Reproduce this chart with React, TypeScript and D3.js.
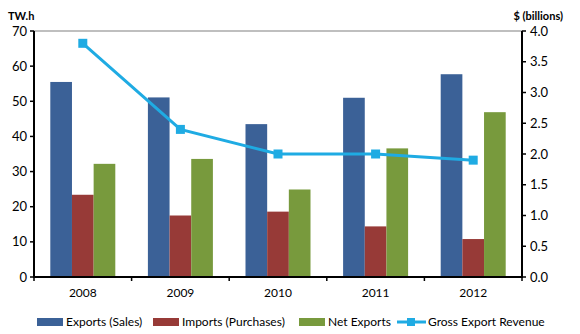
import React from "react";
import * as d3 from "d3";

const years = ["2008", "2009", "2010", "2011", "2012"];
const exportsSales = [55.5, 51.1, 43.5, 51.0, 57.7];
const importsPurchases = [23.4, 17.5, 18.6, 14.4, 10.8];
const netExports = [32.2, 33.6, 24.9, 36.6, 46.9];
const grossRevenue = [3.8, 2.4, 2.0, 2.0, 1.9];
const leftTicks = [0, 10, 20, 30, 40, 50, 60, 70];
const rightTicks = [0, 0.5, 1, 1.5, 2, 2.5, 3, 3.5, 4];

const seriesNames = ["Exports (Sales)", "Imports (Purchases)", "Net Exports"];
const seriesColors = ["#3b6197", "#973a37", "#789a3d"];
const lineColor = "#1fabe3";
const lineName = "Gross Export Revenue";

export default function App() {
  const W = 580, H = 334;
  const x0 = 34, x1 = 522, yTop = 31, yBot = 277;
  const font = "Lato, 'Open Sans', sans-serif";

  const x = d3.scaleBand<string>().domain(years).range([x0, x1]).padding(0);
  const inner = d3.scaleBand<string>().domain(seriesNames).range([-32.5, 32.5]).padding(0);
  const yL = d3.scaleLinear().domain([0, 70]).range([yBot, yTop]);
  const yR = d3.scaleLinear().domain([0, 4]).range([yBot, yTop]);
  const data = [exportsSales, importsPurchases, netExports];

  const center = (y: string) => (x(y) as number) + x.bandwidth() / 2;
  const line = d3.line<number>().x((_, i) => center(years[i])).y((d) => yR(d));

  const legend = [
    { x: 37, label: seriesNames[0], color: seriesColors[0], type: "bar" },
    { x: 153, label: seriesNames[1], color: seriesColors[1], type: "bar" },
    { x: 299, label: seriesNames[2], color: seriesColors[2], type: "bar" },
    { x: 397, label: lineName, color: lineColor, type: "line" },
  ];

  return (
    <svg width={W} height={H} style={{ position: "absolute", left: 0, top: 0, background: "#fff" }} fontFamily={font}>
      {/* bars */}
      {data.map((vals, si) =>
        vals.map((v, i) => (
          <rect
            key={`${si}-${i}`}
            x={center(years[i]) + (inner(seriesNames[si]) as number)}
            y={yL(v)}
            width={inner.bandwidth()}
            height={yBot - yL(v)}
            fill={seriesColors[si]}
          />
        ))
      )}
      {/* top border */}
      <line x1={x0} x2={x1} y1={yTop} y2={yTop} stroke="#808080" strokeWidth={1.2} />
      {/* left axis */}
      <line x1={x0} x2={x0} y1={yTop} y2={yBot} stroke="#000" strokeWidth={2} />
      {leftTicks.map((t) => (
        <g key={`l${t}`}>
          <line x1={x0 - 4} x2={x0} y1={yL(t)} y2={yL(t)} stroke="#000" strokeWidth={1.5} />
          <text x={x0 - 7} y={yL(t)} dy="0.35em" textAnchor="end" fontSize={13} fill="#000">{t}</text>
        </g>
      ))}
      {/* right axis */}
      <line x1={x1} x2={x1} y1={yTop} y2={yBot} stroke="#000" strokeWidth={2} />
      {rightTicks.map((t) => (
        <g key={`r${t}`}>
          <line x1={x1} x2={x1 + 4} y1={yR(t)} y2={yR(t)} stroke="#000" strokeWidth={1.5} />
          <text x={x1 + 8} y={yR(t)} dy="0.35em" textAnchor="start" fontSize={13} fill="#000">{t.toFixed(1)}</text>
        </g>
      ))}
      {/* bottom axis */}
      <line x1={x0 - 1} x2={x1 + 1} y1={yBot} y2={yBot} stroke="#000" strokeWidth={2} />
      {years.map((y, i) => (
        <g key={`x${y}`}>
          <line x1={x(y) as number} x2={x(y) as number} y1={yBot} y2={yBot + 4} stroke="#000" strokeWidth={1.5} />
          <text x={center(y)} y={yBot + 20} textAnchor="middle" fontSize={12} fill="#000">{y}</text>
        </g>
      ))}
      <line x1={x1} x2={x1} y1={yBot} y2={yBot + 4} stroke="#000" strokeWidth={1.5} />
      {/* line series */}
      <path d={line(grossRevenue) || ""} fill="none" stroke={lineColor} strokeWidth={3} />
      {grossRevenue.map((v, i) => (
        <rect key={`m${i}`} x={center(years[i]) - 4.5} y={yR(v) - 4.5} width={9} height={9} fill={lineColor} />
      ))}
      {/* axis titles */}
      <text x={8} y={20} fontSize={11} fontWeight="bold" fill="#000">TW.h</text>
      <text x={563} y={20} fontSize={11} fontWeight="bold" fill="#000" textAnchor="end">$ (billions)</text>
      {/* legend */}
      {legend.map((l) => (
        <g key={l.label}>
          {l.type === "bar" ? (
            <rect x={l.x} y={318} width={26} height={8} fill={l.color} />
          ) : (
            <g>
              <line x1={l.x} x2={l.x + 29} y1={322} y2={322} stroke={l.color} strokeWidth={3} />
              <rect x={l.x + 10} y={318} width={8} height={8} fill={l.color} />
            </g>
          )}
          <text x={l.x + (l.type === "bar" ? 29 : 31)} y={322} dy="0.35em" fontSize={12} fill="#000">{l.label}</text>
        </g>
      ))}
    </svg>
  );
}
